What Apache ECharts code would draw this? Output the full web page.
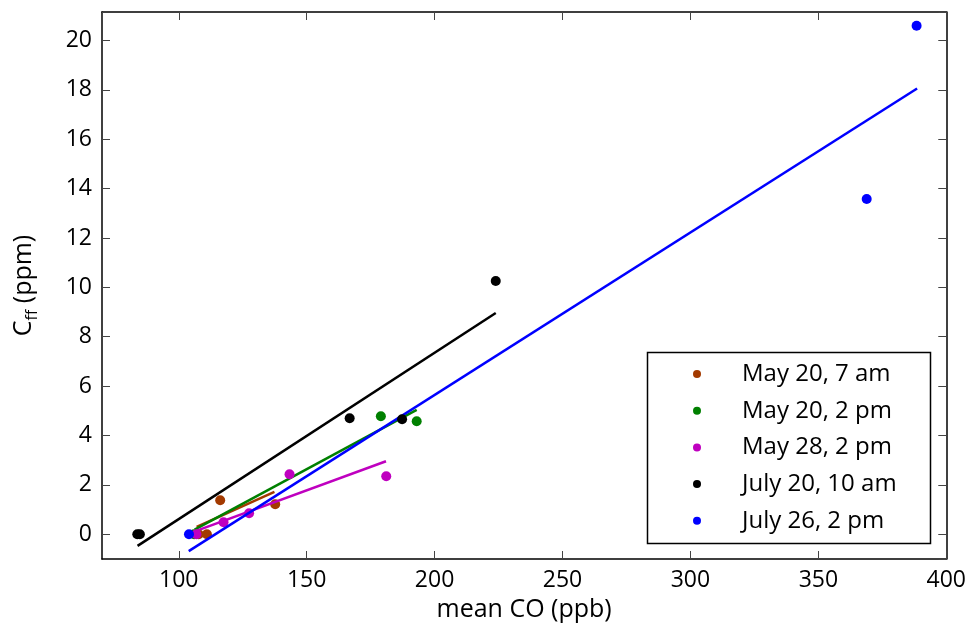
<!DOCTYPE html>
<html>
<head>
<meta charset="utf-8">
<script src="https://cdn.jsdelivr.net/npm/echarts@6/dist/echarts.min.js"></script>
<style>
  html, body { margin: 0; padding: 0; background: #fff; }
  #chart { width: 969px; height: 628px; }
</style>
</head>
<body>
<div id="chart"></div>
<script>
// legend names
var names = ['May 20, 7 am', 'May 20, 2 pm', 'May 28, 2 pm', 'July 20, 10 am', 'July 26, 2 pm'];
var colors = ['#a33a00', '#008000', '#bf00bf', '#000000', '#0000ff'];

// measured points (mean CO ppb, Cff ppm)
var may20amX = [107.8, 111.0, 116.2, 137.7];
var may20amY = [0.0, 0.0, 1.38, 1.22];
var may20pmX = [106.0, 179.0, 193.0];
var may20pmY = [0.0, 4.78, 4.58];
var may28pmX = [106.9, 117.5, 127.5, 143.3, 181.1];
var may28pmY = [0.0, 0.49, 0.85, 2.43, 2.35];
var jul20amX = [83.8, 84.8, 166.8, 187.3, 223.9];
var jul20amY = [0.0, 0.0, 4.70, 4.66, 10.26];
var jul26pmX = [104.0, 368.9, 388.4];
var jul26pmY = [0.0, 13.58, 20.59];

// fit lines (end points)
var may20amFitX = [107.0, 137.4], may20amFitY = [0.3, 1.72];
var may20pmFitX = [106.2, 193.0], may20pmFitY = [0.19, 5.04];
var may28pmFitX = [105.5, 181.0], may28pmFitY = [0.09, 2.96];
var jul20amFitX = [83.9, 223.9], jul20amFitY = [-0.47, 8.96];
var jul26pmFitX = [103.9, 388.6], jul26pmFitY = [-0.68, 18.05];

var ptsX = [may20amX, may20pmX, may28pmX, jul20amX, jul26pmX];
var ptsY = [may20amY, may20pmY, may28pmY, jul20amY, jul26pmY];
var fitX = [may20amFitX, may20pmFitX, may28pmFitX, jul20amFitX, jul26pmFitX];
var fitY = [may20amFitY, may20pmFitY, may28pmFitY, jul20amFitY, jul26pmFitY];

function zip(xs, ys) {
  return xs.map(function (x, i) { return [x, ys[i]]; });
}

var font = '"Open Sans", sans-serif';
var series = [];
for (var i = 0; i < names.length; i++) {
  series.push({
    name: names[i] + ' fit',
    type: 'line',
    data: zip(fitX[i], fitY[i]),
    showSymbol: false,
    symbol: 'none',
    lineStyle: { color: colors[i], width: 2.5 },
    z: 2 + i,
    silent: true
  });
  series.push({
    name: names[i],
    type: 'scatter',
    data: zip(ptsX[i], ptsY[i]),
    symbol: 'circle',
    symbolSize: 10,
    itemStyle: { color: colors[i], opacity: 1 },
    z: 3 + i
  });
}

var tickStyle = { show: true, inside: true, length: 8, lineStyle: { color: '#444', width: 1 } };
var lineStyle = { show: true, onZero: false, lineStyle: { color: '#000', width: 1.5 } };

var chart = echarts.init(document.getElementById('chart'));
chart.setOption({
  animation: false,
  backgroundColor: '#fff',
  textStyle: { fontFamily: font },
  grid: { left: 102, right: 21, top: 12, bottom: 69, containLabel: false },
  xAxis: [{
    type: 'value', min: 70, max: 400, splitNumber: 6, minInterval: 50, maxInterval: 50,
    axisLine: lineStyle, axisTick: tickStyle, splitLine: { show: false },
    axisLabel: { fontSize: 23, color: '#000', margin: 10, fontFamily: font, showMinLabel: false },
    name: 'mean CO (ppb)', nameLocation: 'middle', nameGap: 38,
    nameTextStyle: { fontSize: 25, color: '#000', fontFamily: font }
  }, {
    type: 'value', position: 'top', min: 70, max: 400, splitNumber: 6, minInterval: 50, maxInterval: 50,
    axisLine: lineStyle, axisTick: tickStyle, splitLine: { show: false }, axisLabel: { show: false }
  }],
  yAxis: [{
    type: 'value', min: -1, max: 21.15, splitNumber: 10, minInterval: 2, maxInterval: 2,
    axisLine: lineStyle, axisTick: tickStyle, splitLine: { show: false },
    axisLabel: { fontSize: 23, color: '#000', margin: 10, fontFamily: font, showMinLabel: false, showMaxLabel: false },
    name: '{c|C}{s|ff}{c| (ppm)}', nameLocation: 'middle', nameGap: 62, nameRotate: 90,
    nameTextStyle: {
      fontFamily: font, color: '#000',
      rich: {
        c: { fontSize: 25, lineHeight: 32, color: '#000', fontFamily: font },
        s: { fontSize: 16, lineHeight: 18, verticalAlign: 'bottom', color: '#000', fontFamily: font }
      }
    }
  }, {
    type: 'value', position: 'right', min: -1, max: 21.15, splitNumber: 10, minInterval: 2, maxInterval: 2,
    axisLine: lineStyle, axisTick: tickStyle, splitLine: { show: false }, axisLabel: { show: false }
  }],
  legend: {
    data: names,
    orient: 'vertical',
    left: 693, top: 362,
    padding: 0,
    itemWidth: 8, itemHeight: 8, itemGap: 12.7,
    icon: 'circle',
    textStyle: { fontSize: 24, color: '#000', fontFamily: font, padding: [0, 0, 0, 36] },
    selectedMode: false
  },
  graphic: [{
    type: 'rect', left: 645, top: 350, z: 100,
    shape: { width: 283, height: 191 },
    style: { fill: null, stroke: '#000', lineWidth: 1.5 }
  }],
  series: series
});
</script>
</body>
</html>
